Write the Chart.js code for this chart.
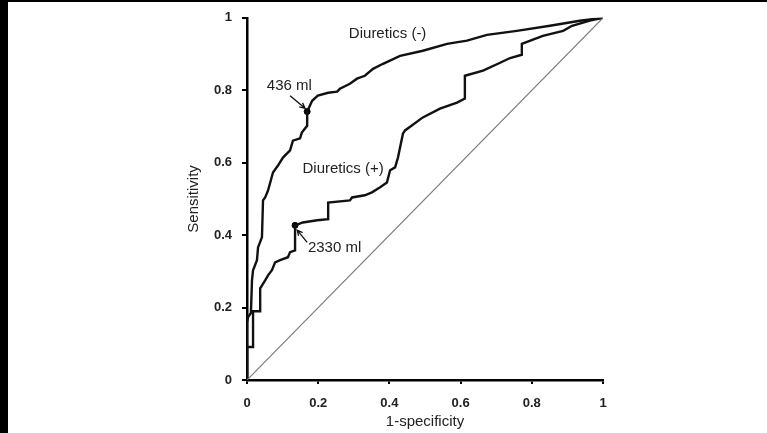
<!DOCTYPE html>
<html><head><meta charset="utf-8">
<script src="https://cdn.jsdelivr.net/npm/chart.js@4"></script>
<style>
html,body{margin:0;padding:0;background:#fff;width:767px;height:433px;overflow:hidden}
#wrap{position:absolute;left:0;top:0;width:767px;height:433px}
#barL{position:absolute;left:0;top:0;width:8px;height:433px;background:#000}
#barT{position:absolute;left:0;top:0;width:767px;height:2px;background:#000}
</style></head><body>
<div id="wrap"><canvas id="c" width="767" height="433"></canvas></div>
<div id="barL"></div><div id="barT"></div>
<script>
// ROC curve, patients without diuretics
const minusX = [0,0,0.003,0.011,0.014,0.017,0.028,0.031,0.042,0.045,0.051,0.059,0.073,0.087,0.101,0.121,0.129,0.149,0.154,0.169,0.169,0.183,0.199,0.228,0.253,0.261,0.289,0.309,0.331,0.354,0.382,0.43,0.494,0.562,0.618,0.674,0.758,0.851,0.935,1];
const minusY = [0,0.157,0.174,0.185,0.275,0.303,0.331,0.366,0.394,0.496,0.504,0.523,0.573,0.592,0.614,0.634,0.661,0.667,0.683,0.702,0.741,0.771,0.785,0.793,0.796,0.804,0.818,0.832,0.84,0.859,0.873,0.895,0.909,0.928,0.937,0.953,0.964,0.978,0.992,1];
// ROC curve, patients with diuretics
const plusX = [0,0,0.017,0.017,0.037,0.037,0.051,0.059,0.07,0.079,0.093,0.115,0.121,0.135,0.135,0.157,0.197,0.228,0.228,0.289,0.295,0.331,0.351,0.374,0.393,0.402,0.416,0.424,0.438,0.444,0.494,0.542,0.59,0.612,0.612,0.663,0.711,0.739,0.772,0.772,0.831,0.888,0.913,0.963,1];
const plusY = [0,0.091,0.091,0.19,0.19,0.253,0.275,0.289,0.303,0.325,0.331,0.339,0.353,0.358,0.427,0.435,0.441,0.444,0.49,0.496,0.504,0.51,0.518,0.532,0.545,0.579,0.587,0.614,0.68,0.689,0.725,0.749,0.766,0.777,0.84,0.854,0.876,0.889,0.898,0.928,0.95,0.964,0.978,0.992,1];
// reference diagonal
const diagX = [0,1];
const diagY = [0,1];
// cut-off points
const cutX = [0.169,0.135];
const cutY = [0.741,0.427];
// tick labels
const xTicks = [0,0.2,0.4,0.6,0.8,1];
const xTickLabels = ['0','0.2','0.4','0.6','0.8','1'];
const yTicks = [0,0.2,0.4,0.6,0.8,1];
const yTickLabels = ['0','0.2','0.4','0.6','0.8','1'];
// annotations
const annTexts = ['Diuretics (-)','Diuretics (+)','436 ml','2330 ml'];
const annX = [0.395,0.27,0.119,0.246];
const annY = [0.956,0.584,0.813,0.364];
const arrFromX = [0.121,0.169];
const arrFromY = [0.785,0.38];
const arrToX = [0.163,0.141];
const arrToY = [0.750,0.414];

const pts = (xs, ys) => xs.map((x, i) => ({x, y: ys[i]}));
const FONT = '"Liberation Sans", Arial, sans-serif';

const annotPlugin = {
  id: 'annot',
  afterDatasetsDraw(chart) {
    const {ctx, scales: {x, y}} = chart;
    ctx.save();
    ctx.fillStyle = '#222';
    ctx.font = '15px ' + FONT;
    ctx.textAlign = 'center';
    ctx.textBaseline = 'middle';
    annTexts.forEach((t, i) => ctx.fillText(t, x.getPixelForValue(annX[i]), y.getPixelForValue(annY[i])));
    ctx.strokeStyle = '#111';
    ctx.lineWidth = 1.3;
    arrFromX.forEach((fx, i) => {
      const x1 = x.getPixelForValue(fx), y1 = y.getPixelForValue(arrFromY[i]);
      const x2 = x.getPixelForValue(arrToX[i]), y2 = y.getPixelForValue(arrToY[i]);
      const a = Math.atan2(y2 - y1, x2 - x1), h = 6;
      ctx.beginPath();
      ctx.moveTo(x1, y1); ctx.lineTo(x2, y2);
      ctx.moveTo(x2 - h * Math.cos(a - 0.45), y2 - h * Math.sin(a - 0.45));
      ctx.lineTo(x2, y2);
      ctx.lineTo(x2 - h * Math.cos(a + 0.45), y2 - h * Math.sin(a + 0.45));
      ctx.stroke();
    });
    ctx.restore();
  }
};

new Chart(document.getElementById('c'), {
  type: 'scatter',
  data: {
    datasets: [
      {data: pts(diagX, diagY), showLine: true, borderColor: '#7a7a7a', borderWidth: 1.2, pointRadius: 0},
      {data: pts(minusX, minusY), showLine: true, borderColor: '#111', borderWidth: 2.4, pointRadius: 0, tension: 0},
      {data: pts(plusX, plusY), showLine: true, borderColor: '#111', borderWidth: 2.4, pointRadius: 0, tension: 0},
      {data: pts(cutX, cutY), showLine: false, pointRadius: 3, backgroundColor: '#000', borderColor: '#000'}
    ]
  },
  options: {
    responsive: false,
    animation: false,
    devicePixelRatio: 1,
    layout: {padding: {left: 185, top: 17, right: 164, bottom: 2}},
    plugins: {legend: {display: false}, tooltip: {enabled: false}},
    scales: {
      x: {
        type: 'linear', min: 0, max: 1,
        afterBuildTicks: s => { s.ticks = xTicks.map(v => ({value: v})); },
        afterFit: s => { s.height = 51; },
        ticks: {font: {family: FONT, size: 13, weight: 'bold'}, color: '#222', padding: 12,
                callback: (v) => xTickLabels[xTicks.indexOf(v)]},
        grid: {drawOnChartArea: false, drawTicks: true, tickLength: 4, color: '#000', lineWidth: 2},
        border: {display: true, color: '#000', width: 2.5},
        title: {display: true, text: '1-specificity', font: {family: FONT, size: 15}, color: '#222', padding: 0}
      },
      y: {
        type: 'linear', min: 0, max: 1,
        afterBuildTicks: s => { s.ticks = yTicks.map(v => ({value: v})); },
        afterFit: s => { s.width = 62; },
        ticks: {font: {family: FONT, size: 13, weight: 'bold'}, color: '#222', padding: 10,
                callback: (v) => yTickLabels[yTicks.indexOf(v)]},
        grid: {drawOnChartArea: false, drawTicks: true, tickLength: 5, color: '#000', lineWidth: 2},
        border: {display: true, color: '#000', width: 2.5},
        title: {display: true, text: 'Sensitivity', font: {family: FONT, size: 15}, color: '#222', padding: 0}
      }
    }
  },
  plugins: [annotPlugin]
});
</script>
</body></html>
